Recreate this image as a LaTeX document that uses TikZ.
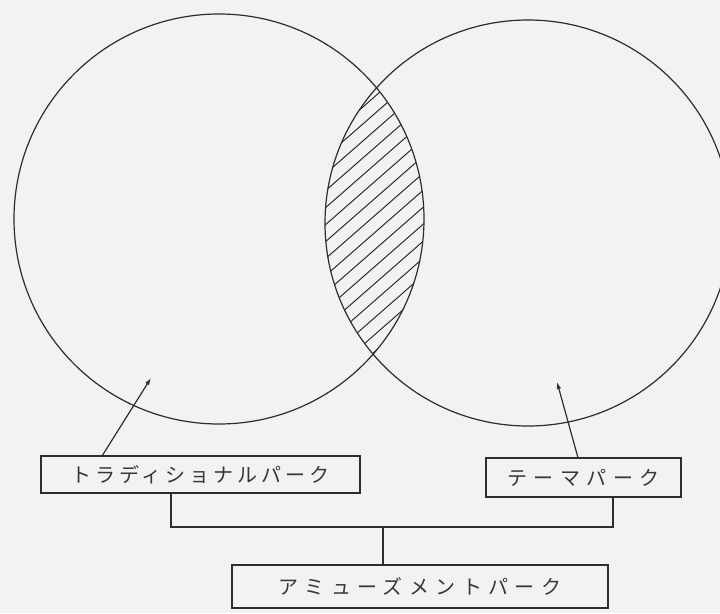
\documentclass[tikz,border=0pt]{standalone}
\usepackage{fontspec}
\newfontfamily\jp[LetterSpace=20]{Noto Sans CJK JP}
\newfontfamily\jpw[LetterSpace=32]{Noto Sans CJK JP}
\usetikzlibrary{arrows.meta,calc}
\definecolor{bgcol}{RGB}{242,242,242}
\definecolor{ink}{RGB}{45,45,45}
\definecolor{txt}{RGB}{55,55,55}
\begin{document}
\begin{tikzpicture}[x=1pt,y=-1pt,
  line/.style={draw=ink,line width=1.2pt},
  label/.style={line,fill=bgcol,inner sep=0pt,text=txt},
  narrowtext/.style={font=\jp\fontsize{20}{20}\selectfont},
  widetext/.style={font=\jpw\fontsize{20}{20}\selectfont},
  arr/.style={line,-{Latex[length=7pt,width=4.5pt]}},
  hatch/.style={draw=ink,line width=1pt}]
\fill[bgcol] (0,0) rectangle (720,613);
\useasboundingbox (0,0) rectangle (720,613);
% hatched lens
\begin{scope}
  \clip (219,219) circle[radius=205pt];
  \clip (528,223) circle[radius=203pt];
  \foreach \b in {60,77,...,520} {
    \draw[hatch] (300,\b) -- ++(160,-140);
  }
\end{scope}
\draw[line] (219,219) circle[radius=205pt];
\draw[line] (528,223) circle[radius=203pt];
% labels
\node[label,narrowtext,minimum width=319pt,minimum height=37pt] (lbox) at (200.5,474.5) {トラディショナルパーク};
\node[label,widetext,minimum width=195pt,minimum height=39pt] (rbox) at (583.5,477.5) {テーマパーク};
\node[label,widetext,minimum width=376pt,minimum height=43pt] (bbox) at (420,586.5) {アミューズメントパーク};
% connectors
\coordinate (j1) at (171,527);
\coordinate (j2) at (613,527);
\coordinate (j3) at (383,527);
\draw[line] (lbox.south -| j1) -- (j1) -- (j2) -- (rbox.south -| j2);
\draw[line] (j3) -- (j3 |- bbox.north);
% arrows
\coordinate (ltip) at (151,378);
\coordinate (rtip) at (557,382);
\draw[arr] ($(lbox.north west)+(62,0)$) -- (ltip);
\draw[arr] ($(rbox.north west)+(92.5,0)$) -- (rtip);
\end{tikzpicture}
\end{document}
